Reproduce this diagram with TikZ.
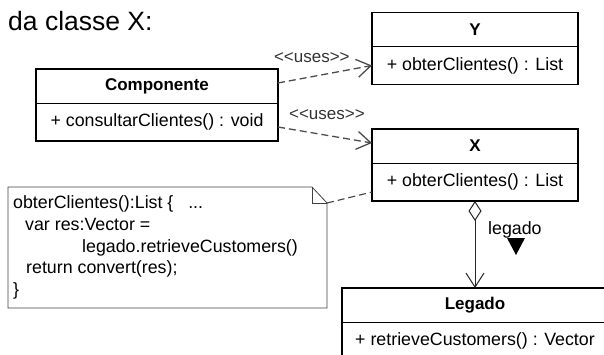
\documentclass[tikz,border=0pt]{standalone}
\usepackage{fontspec}
\setmainfont{Liberation Sans}
\usetikzlibrary{positioning,arrows.meta}

\newcommand{\umltxt}{\fontsize{17.8}{22}\selectfont}

\begin{document}
\begin{tikzpicture}[x=1pt,y=-1pt,node distance=0pt,>={Straight Barb[length=14pt,width=18pt]}]
  \tikzstyle{classe}=[minimum height=34pt,inner sep=0pt,outer sep=0pt,font=\fontsize{17}{20}\selectfont\bfseries]
  \tikzstyle{metodo}=[minimum height=38pt,inner sep=0pt,outer sep=0pt,font=\umltxt]
  \tikzstyle{usa}=[->,dash pattern=on 7pt off 4pt,line width=1.3pt,draw=black!70]
  \tikzstyle{ligacao}=[dash pattern=on 7pt off 4pt,line width=1.1pt,draw=black!75]
  \tikzstyle{agrega}=[{Diamond[open,length=20pt,width=13pt]}->,line width=1pt,draw=black!85]
  \tikzstyle{rotulo}=[inner sep=0pt,font=\fontsize{17}{20}\selectfont,text=black!80]
  \tikzstyle{texto}=[anchor=base west,inner sep=0pt,font=\umltxt]

  \useasboundingbox (0,0) rectangle (604,355);
  \clip (0,0) rectangle (604,355);

  \node [texto,font=\fontsize{26.5}{30}\selectfont] (titulo) at (8,31) {da classe X:};

  % classes
  \node [classe,minimum width=242pt] (comp) at (157,86) {Componente};
  \node [metodo,minimum width=242pt] (comp-ops) [below=of comp] {+ consultarClientes() : void};

  \node [classe,minimum width=206pt] (y) at (475,29.5) {Y};
  \node [metodo,minimum width=206pt] (y-ops) [below=of y] {+ obterClientes() : List};

  \node [classe,minimum width=206pt] (x) at (475,146) {X};
  \node [metodo,minimum width=206pt] (x-ops) [below=of x] {+ obterClientes() : List};

  \node [classe,minimum width=266pt] (leg) at (475,305) {Legado};
  \node [metodo,minimum width=266pt] (leg-ops) [below=of leg] {+ retrieveCustomers() : Vector};

  \foreach \c in {comp,y,x,leg}{
    \draw [line width=1.6pt] (\c.north west) rectangle (\c-ops.south east);
    \draw [line width=.8pt] (\c.south west) -- (\c.south east);
  }

  % nota
  \node [minimum width=319pt,minimum height=121pt,inner sep=0pt,outer sep=0pt] (nota) at (167.5,247.5) {};
  \coordinate (dobra) at ([yshift=-16pt]nota.north east);
  \draw [line width=.8pt,draw=black!75] (nota.north west) -- ([xshift=-15pt]nota.north east) -- (dobra)
    -- (nota.south east) -- (nota.south west) -- cycle;
  \draw [line width=.8pt,draw=black!75] ([xshift=-15pt]nota.north east) |- (dobra);

  \node [texto] (n1) at (13,208) {obterClientes():List \{\ \ \ ...};
  \node [texto] (n2) at (25,230) {var res:Vector =};
  \node [texto] (n3) at (82,252) {legado.retrieveCustomers()};
  \node [texto] (n4) at (26,273.5) {return convert(res);};
  \node [texto] (n5) at (13,295) {\}};

  % ligacoes
  \draw [usa] ([yshift=3pt]comp.east) -- node [rotulo,pos=.36,above=13.5pt] (uses1) {<\kern0pt<uses>\kern0pt>} (y-ops.west);
  \draw [usa] ([yshift=-5pt]comp-ops.east) -- node [rotulo,pos=.52,above=15.5pt] (uses2) {<\kern0pt<uses>\kern0pt>} ([yshift=3pt]x.west);
  \draw [ligacao] (dobra) -- ([yshift=-10pt]x-ops.west);

  \draw [agrega] (x-ops.south) -- (leg.north);
  \node [texto] (papel) at (488,234) {legado};
  \fill (507,238) -- (525,238) -- (516,255) -- cycle;
\end{tikzpicture}
\end{document}
